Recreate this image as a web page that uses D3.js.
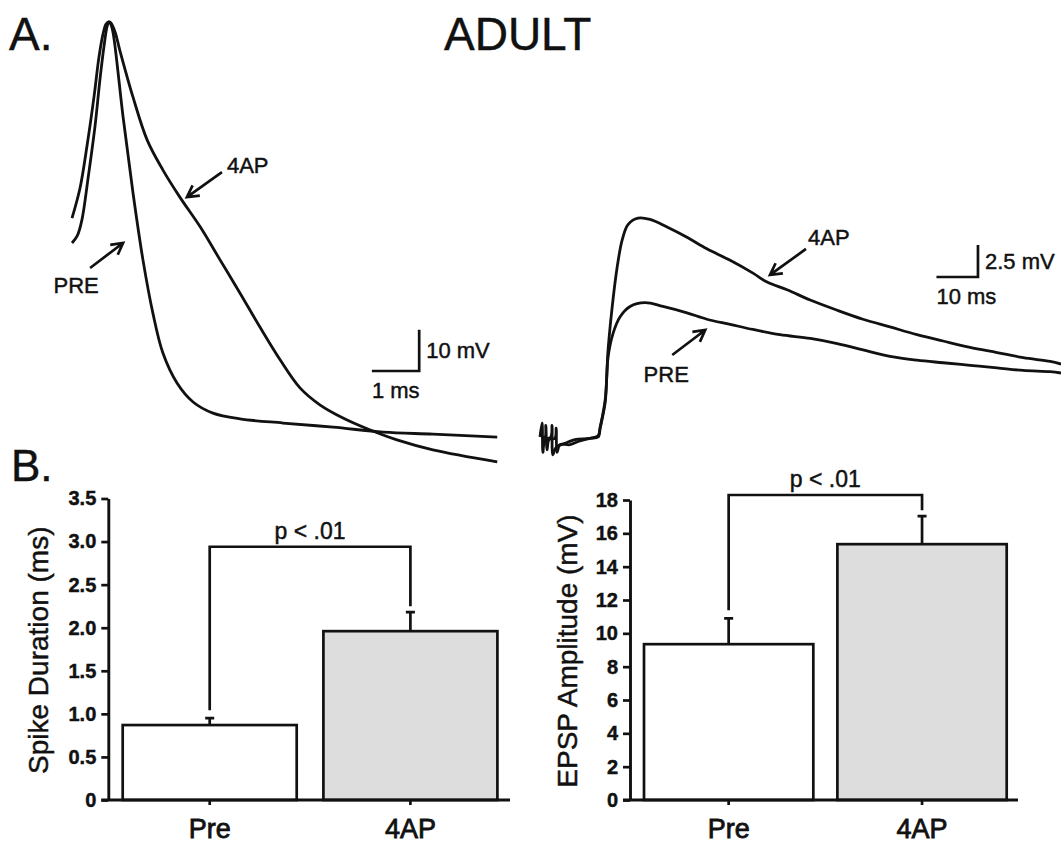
<!DOCTYPE html>
<html>
<head>
<meta charset="utf-8">
<script src="https://cdn.jsdelivr.net/npm/d3@7"></script>
<style>
  html, body { margin: 0; padding: 0; background: #fff; }
  svg { display: block; }
  text { font-family: "Liberation Sans", Arial, Helvetica, sans-serif; fill: #111; stroke: #111; stroke-width: 0.45px; }
</style>
</head>
<body>
<svg id="fig" width="1061" height="844"></svg>
<script>
// ---------- Panel A: recorded traces, [time (ms), membrane potential (mV)] ----------
const spikePre = [[0,-23.5],[0.11,-21.8],[0.21,-17.9],[0.34,-7.8],[0.49,5.1],[0.59,16.0],[0.68,24.4],[0.74,28.8],[0.78,30],[0.82,29.5],[0.87,27.3],[1.08,7.0],[1.29,-11.4],[1.50,-27.6],[1.71,-40.5],[1.92,-50.1],[2.22,-57.4],[2.56,-62.0],[2.98,-64.7],[3.55,-66.1],[4.46,-67.1],[5.52,-68.1],[6.58,-69.3],[7.63,-69.8],[8.99,-70.5]];
const spike4AP = [[0,-17.5],[0.17,-10.2],[0.32,0.2],[0.47,12.3],[0.57,21.5],[0.66,27.3],[0.72,29.5],[0.78,30],[0.82,29.8],[0.91,27.6],[1.01,23.2],[1.29,11.8],[1.59,1.4],[1.92,-5.8],[2.28,-12.4],[2.71,-19.6],[3.13,-27.6],[3.55,-35.6],[3.97,-43.8],[4.40,-51.8],[4.82,-58.6],[5.24,-62.7],[5.73,-65.9],[6.24,-68.5],[6.87,-71.2],[7.63,-73.6],[8.99,-76.5]];

// EPSP relative to baseline (mV), stimulus artifact at the start
const epspPre = [[0.5,0],[1.2,0],[1.4,0.9],[1.7,-1.0],[2.2,-0.2],[3.6,-0.1],[3.9,0.7],[4.1,-1.2],[4.8,-0.6],[7.2,-0.6],[9.6,-0.3],[12.0,-0.1],[14.0,0],[14.5,0.7],[15.7,2.7],[16.4,6.25],[17.6,8.1],[19.3,9.4],[21.7,10.2],[25.3,10.5],[29.6,10.2],[35.4,9.7],[40.2,9.2],[45.8,8.8],[51.3,8.4],[57.8,8.0],[65.1,7.7],[71.6,7.3],[77.8,6.8],[84.3,6.3],[90.8,6.0],[97.1,5.8],[103.6,5.6],[110.1,5.4],[116.4,5.2],[122.9,5.1],[125.5,5.0]];
const epsp4AP = [[0,0],[0.5,1.1],[0.7,-1.2],[1.2,-0.2],[2.6,0],[2.9,0.9],[3.1,-1.4],[3.9,-0.8],[6.0,-0.5],[8.4,-0.2],[12.0,-0.1],[14.0,0.1],[14.5,0.8],[15.7,2.9],[16.4,6.8],[17.3,9.9],[18.6,13.3],[19.8,15.4],[21.2,16.6],[23.6,17.1],[26.5,17.0],[30.6,16.4],[35.4,15.6],[40.2,14.7],[45.8,13.8],[51.3,12.8],[54.7,12.1],[59.5,11.5],[65.1,10.7],[71.6,9.9],[77.8,9.2],[84.3,8.6],[90.8,8.0],[97.1,7.5],[103.6,7.0],[110.1,6.6],[116.4,6.2],[122.9,5.9],[125.5,5.7]];

// Scale bars: [corner time, corner voltage, time length, voltage length]
const spikeScaleBar = [7.34, -54.5, 1, 10];
const epspScaleBar = [105.5, 12.5, 10, 2.5];

// Trace annotations: label, arrow tip (time, mV)
const spikeLabels = [
  { text: "4AP", t: 2.43, v: -12.4 },
  { text: "PRE", t: 1.08, v: -23.5 }
];
const epspLabels = [
  { text: "4AP", t: 55.4, v: 12.66 },
  { text: "PRE", t: 39.8, v: 8.36 }
];

// ---------- Panel B: group means ± SEM ----------
const groups = ["Pre", "4AP"];
const spikeDurationMean = [0.87, 1.96];
const spikeDurationSEM = [0.08, 0.22];
const epspAmplitudeMean = [9.35, 15.35];
const epspAmplitudeSEM = [1.55, 1.68];
const durationTicks = [0, 0.5, 1.0, 1.5, 2.0, 2.5, 3.0, 3.5];
const amplitudeTicks = [0, 2, 4, 6, 8, 10, 12, 14, 16, 18];
const durationBracket = 2.94;
const amplitudeBracket = 18.3;
const sigText = "p < .01";

const svg = d3.select("#fig");
const INK = "#111";

// ----- headings -----
svg.append("text").attr("x", 9).attr("y", 50).attr("font-size", 46).text("A.");
svg.append("text").attr("x", 444).attr("y", 50).attr("font-size", 46).text("ADULT");
svg.append("text").attr("x", 11).attr("y", 481).attr("font-size", 44).text("B.");

// open arrowhead arrow from (x1,y1) to tip (x2,y2)
function arrow(g, x1, y1, x2, y2) {
  const a = Math.atan2(y2 - y1, x2 - x1);
  const L = 13, w = 0.5;
  const p1 = [x2 - L * Math.cos(a - w), y2 - L * Math.sin(a - w)];
  const p2 = [x2 - L * Math.cos(a + w), y2 - L * Math.sin(a + w)];
  g.append("path")
    .attr("d", `M${x1},${y1}L${x2},${y2}M${p1[0]},${p1[1]}L${x2},${y2}L${p2[0]},${p2[1]}`)
    .attr("fill", "none").attr("stroke", INK).attr("stroke-width", 2.7)
    .attr("stroke-linejoin", "miter").attr("stroke-linecap", "butt");
}

function scaleBar(g, xs, ys, bar, tLabel, vLabel) {
  const [t, v, dt, dv] = bar;
  const cx = xs(t), cy = ys(v);
  g.append("path")
    .attr("d", `M${xs(t - dt)},${cy}H${cx}V${ys(v + dv)}`)
    .attr("fill", "none").attr("stroke", INK).attr("stroke-width", 2.7);
  g.append("text").attr("x", cx + 7).attr("y", (cy + ys(v + dv)) / 2 + 8)
    .attr("font-size", 22).text(vLabel);
  g.append("text").attr("x", xs(t - dt)).attr("y", cy + 27)
    .attr("font-size", 22).text(tLabel);
}

const traceCurve = d3.curveCatmullRom.alpha(0.5);

// ----- Panel A left: action potentials -----
{
  const x = d3.scaleLinear().domain([0, 9]).range([72, 497.7]);
  const y = d3.scaleLinear().domain([-70, 30]).range([435, 22]);
  const line = d3.line().x(d => x(d[0])).y(d => y(d[1])).curve(traceCurve);
  const g = svg.append("g");
  [spikePre, spike4AP].forEach(s => {
    g.append("path").attr("d", line(s)).attr("fill", "none")
      .attr("stroke", INK).attr("stroke-width", 2.8).attr("stroke-linejoin", "round");
  });
  scaleBar(g, x, y, spikeScaleBar, "1 ms", "10 mV");
  const a0 = spikeLabels[0], a1 = spikeLabels[1];
  arrow(g, x(a0.t) + 35, y(a0.v) - 25, x(a0.t), y(a0.v));
  g.append("text").attr("x", x(a0.t) + 40).attr("y", y(a0.v) - 24).attr("font-size", 22).text(a0.text);
  arrow(g, x(a1.t) - 33, y(a1.v) + 25, x(a1.t), y(a1.v));
  g.append("text").attr("x", x(a1.t) - 47).attr("y", y(a1.v) + 50).attr("text-anchor", "middle").attr("font-size", 22).text(a1.text);
}

// ----- Panel A right: EPSPs -----
{
  const x = d3.scaleLinear().domain([0, 125.5]).range([540, 1061]);
  const y = d3.scaleLinear().domain([0, 17.5]).range([437, 213]);
  const line = d3.line().x(d => x(d[0])).y(d => y(d[1])).curve(traceCurve);
  const g = svg.append("g");
  [epspPre, epsp4AP].forEach(s => {
    g.append("path").attr("d", line(s)).attr("fill", "none")
      .attr("stroke", INK).attr("stroke-width", 2.8).attr("stroke-linejoin", "round");
  });
  scaleBar(g, x, y, epspScaleBar, "10 ms", "2.5 mV");
  const a0 = epspLabels[0], a1 = epspLabels[1];
  arrow(g, x(a0.t) + 36, y(a0.v) - 26, x(a0.t), y(a0.v));
  g.append("text").attr("x", x(a0.t) + 38).attr("y", y(a0.v) - 30).attr("font-size", 22).text(a0.text);
  arrow(g, x(a1.t) - 33, y(a1.v) + 25, x(a1.t), y(a1.v));
  g.append("text").attr("x", x(a1.t) - 39).attr("y", y(a1.v) + 52).attr("text-anchor", "middle").attr("font-size", 22).text(a1.text);
}

// ----- Panel B: bar charts -----
function barChart(opt) {
  const g = svg.append("g");
  const x = d3.scaleBand().domain(groups).range(opt.xRange).paddingInner(opt.padInner).paddingOuter(0);
  const y = d3.scaleLinear().domain(opt.yDomain).range(opt.yRange);
  const fills = ["#ffffff", "#dddddd"];

  // bars
  g.selectAll("rect.bar").data(groups).join("rect").attr("class", "bar")
    .attr("x", d => x(d)).attr("width", x.bandwidth())
    .attr("y", (d, i) => y(opt.mean[i])).attr("height", (d, i) => y(0) - y(opt.mean[i]))
    .attr("fill", (d, i) => fills[i]).attr("stroke", INK).attr("stroke-width", 2.7);

  // error bars (upper only)
  groups.forEach((d, i) => {
    const cx = x(d) + x.bandwidth() / 2;
    const top = y(opt.mean[i] + opt.sem[i]);
    g.append("path").attr("d", `M${cx},${y(opt.mean[i])}V${top}M${cx - 4.5},${top}H${cx + 4.5}`)
      .attr("stroke", INK).attr("stroke-width", 2.7).attr("fill", "none");
  });

  // significance bracket
  const c0 = x(groups[0]) + x.bandwidth() / 2, c1 = x(groups[1]) + x.bandwidth() / 2;
  const yb = y(opt.bracket);
  const e0 = y(opt.mean[0] + opt.sem[0]) - 8, e1 = y(opt.mean[1] + opt.sem[1]) - 6;
  g.append("path").attr("d", `M${c0},${e0}V${yb}H${c1}V${e1}`)
    .attr("stroke", INK).attr("stroke-width", 2.7).attr("fill", "none");
  g.append("text").attr("x", (c0 + c1) / 2).attr("y", yb - 8).attr("text-anchor", "middle")
    .attr("font-size", 23).text(sigText);

  // y axis
  const yAxis = d3.axisLeft(y).tickValues(opt.ticks).tickFormat(opt.fmt).tickSize(7).tickSizeOuter(0).tickPadding(5);
  const ya = g.append("g").attr("transform", `translate(${opt.axisX},0)`).call(yAxis);
  ya.select(".domain").attr("stroke", INK).attr("stroke-width", 2.9);
  ya.selectAll(".tick line").attr("stroke", INK).attr("stroke-width", 2.7);
  ya.selectAll(".tick text").attr("font-size", 20).attr("font-weight", "bold")
    .attr("font-family", "Liberation Sans, Arial, sans-serif").attr("fill", INK);

  // x axis
  const xAxis = d3.axisBottom(x).tickSize(5).tickSizeOuter(0).tickPadding(14);
  const xa = g.append("g").attr("transform", `translate(0,${y(0)})`).call(xAxis);
  xa.select(".domain").remove();
  xa.selectAll(".tick line").attr("stroke", INK).attr("stroke-width", 2.7);
  xa.selectAll(".tick text").attr("font-size", 27).attr("dy", "0.71em")
    .attr("font-family", "Liberation Sans, Arial, sans-serif").attr("fill", INK)
    .style("stroke-width", "0.8px");
  g.append("line").attr("x1", opt.axisX - 7).attr("x2", opt.xEnd)
    .attr("y1", y(0)).attr("y2", y(0)).attr("stroke", INK).attr("stroke-width", 2.9);

  // y label
  g.append("text").attr("transform", `translate(${opt.labelX},${(opt.yRange[0] + opt.yRange[1]) / 2 + 1}) rotate(-90)`)
    .attr("text-anchor", "middle").attr("font-size", 28).text(opt.label);
}

barChart({
  xRange: [122.7, 497.4], padInner: 0.133,
  yDomain: [0, 3.5], yRange: [800, 498.5],
  mean: spikeDurationMean, sem: spikeDurationSEM, bracket: durationBracket,
  ticks: durationTicks, fmt: d => d === 0 ? "0" : d3.format(".1f")(d),
  axisX: 108.3, xEnd: 510, labelX: 48, label: "Spike Duration (ms)"
});

barChart({
  xRange: [644, 1006.7], padInner: 0.1245,
  yDomain: [0, 18], yRange: [800, 500],
  mean: epspAmplitudeMean, sem: epspAmplitudeSEM, bracket: amplitudeBracket,
  ticks: amplitudeTicks, fmt: d3.format("d"),
  axisX: 630, xEnd: 1018, labelX: 577, label: "EPSP Amplitude (mV)"
});
</script>
</body>
</html>
